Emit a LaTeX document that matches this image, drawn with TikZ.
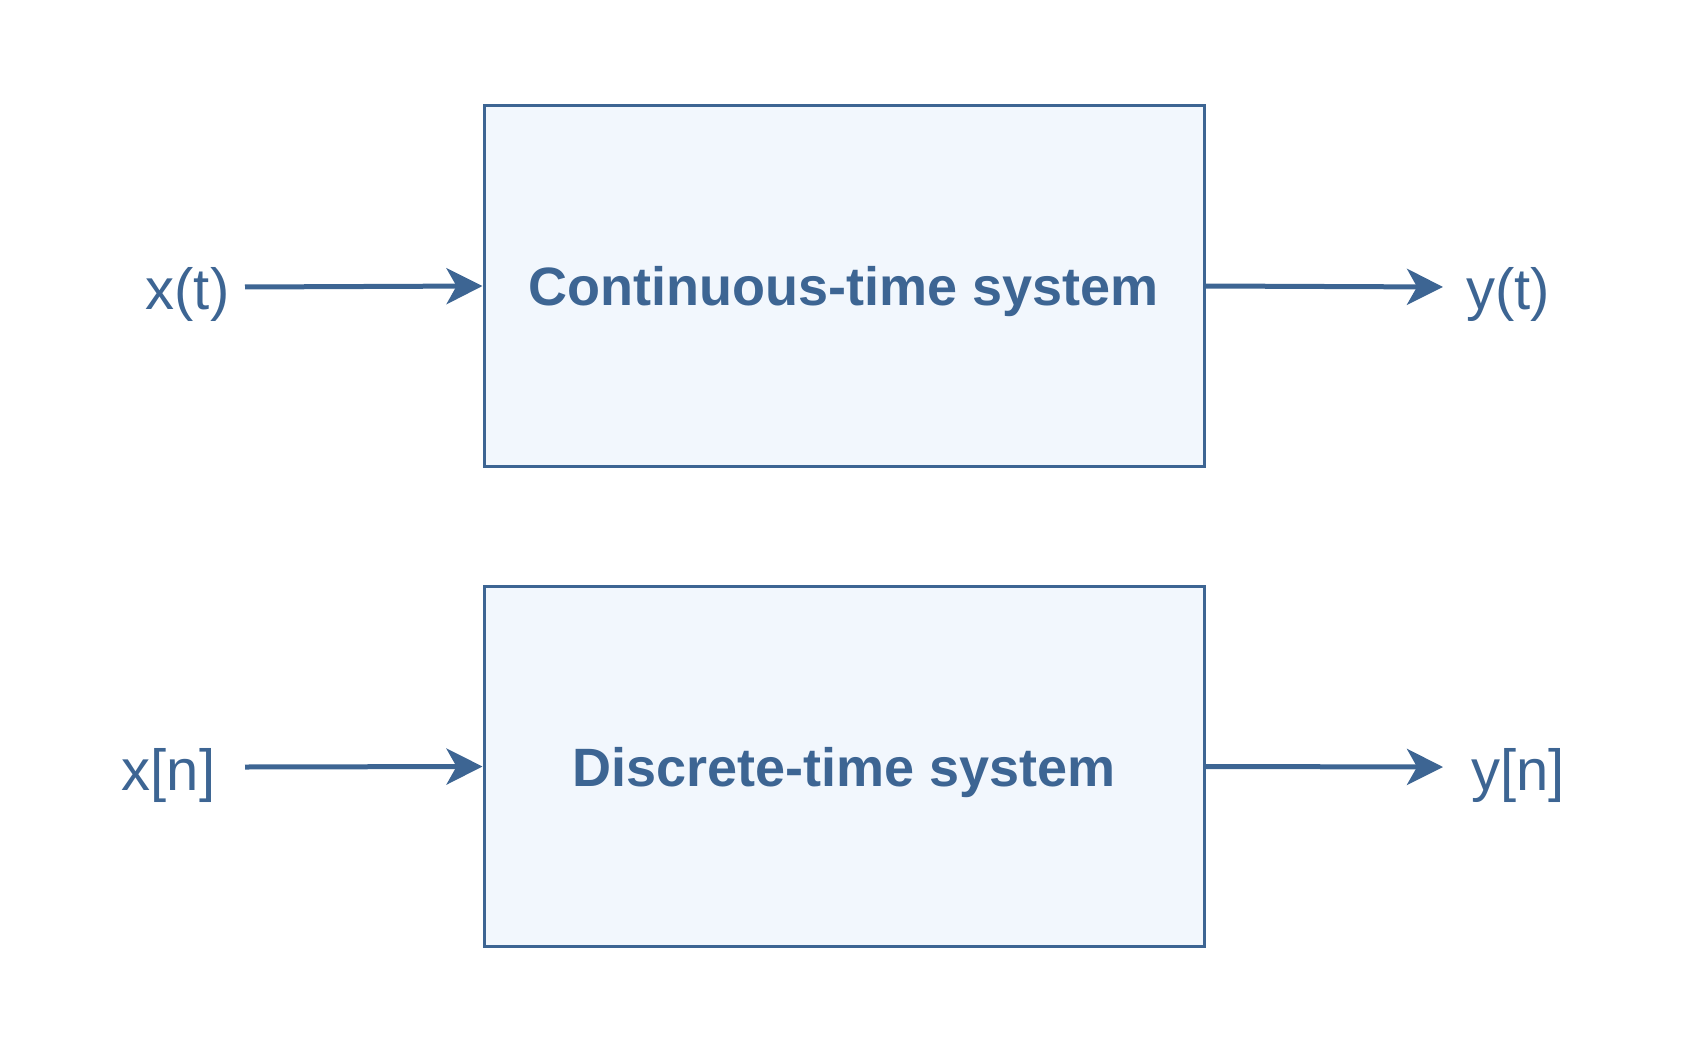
\documentclass[tikz,border=0pt]{standalone}
\usepackage{fontspec}
\setmainfont{Liberation Sans}
\usetikzlibrary{arrows.meta}
\definecolor{sysblue}{HTML}{3D6593}
\definecolor{sysfill}{HTML}{F2F7FD}
\tikzset{
  sysbox/.style={draw=sysblue, fill=sysfill, line width=1.5pt, minimum width=360pt, minimum height=180pt, inner sep=0pt,
    text=sysblue, text depth=0pt, font=\fontsize{27}{32}\selectfont\bfseries},
  sig/.style={text=sysblue, font=\fontsize{29}{34}\selectfont, inner sep=0pt, anchor=base},
  arr/.style={draw=sysblue, line width=2.5pt, -{Stealth[length=18pt, width=18pt, inset=5pt]}}
}
\begin{document}
\begin{tikzpicture}[x=0.5pt, y=-0.5pt]
\useasboundingbox (0,0) rectangle (1689,1053);
\node[sysbox] (ct) at (844,286) {Continuous-time system};
\node[sysbox] (dt) at (844,766.5) {Discrete-time system};
\node[sig] (xt) at (187.5,309) {x(t)};
\node[sig] (yt) at (1508,309) {y(t)};
\node[sig] (xn) at (168.5,790) {x[n]};
\node[sig] (yn) at (1518,790) {y[n]};
\coordinate (xin) at (245,287);
\coordinate (yout) at (1443,287);
\coordinate (xnin) at (245,767);
\coordinate (ynout) at (1443,767);
\draw[arr] (xin) -- (ct.west);
\draw[arr] (ct.east) -- (yout);
\draw[arr] (xnin) -- (dt.west);
\draw[arr] (dt.east) -- (ynout);
\end{tikzpicture}
\end{document}
